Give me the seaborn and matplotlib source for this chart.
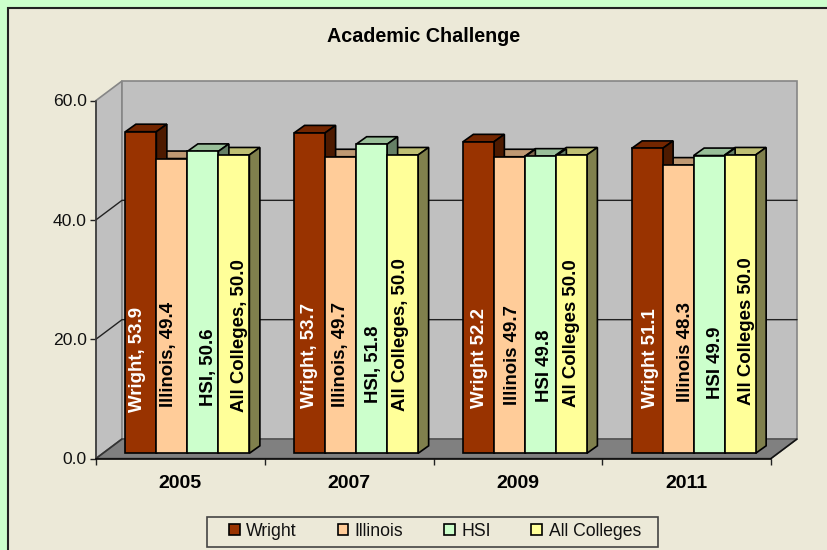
import matplotlib
matplotlib.use('Agg')
import matplotlib.pyplot as plt
from matplotlib.colors import to_rgb
from matplotlib.patches import Polygon, Rectangle
import pandas as pd
import seaborn as sns

years = ['2005', '2007', '2009', '2011']
series_names = ['Wright', 'Illinois', 'HSI', 'All Colleges']
wright = [53.9, 53.7, 52.2, 51.1]
illinois = [49.4, 49.7, 49.7, 48.3]
hsi = [50.6, 51.8, 49.8, 49.9]
all_colleges = [50.0, 50.0, 50.0, 50.0]
y_ticks = [0, 20, 40, 60]
colors = ['#993300', '#FFCC99', '#CCFFCC', '#FFFF99']
# the first two years carry a comma in the data labels
label_seps = [', ', ', ', ' ', ' ']

W, H = 827, 550
left, right, top, bottom = 96, 771, 100.5, 458.5
px_x = 4 / (right - left)
px_y = 60 / (bottom - top)

# depth of the box and of the bars, pixels
WALL_DX, WALL_DY = 26 * px_x, 19.5 * px_y
BAR_DX, BAR_DY = 10.5 * px_x, 7.5 * px_y
SHIFT_X, SHIFT_Y = 7 * px_x, 5.2 * px_y

# data label placement: offset from bar centre and bottom of text, pixels
label_dx = [[-3, -3, 5.5, 6], [0, 0, 2, -2], [1, 3, 4, 0], [3, 7, 6, 6]]
label_bottom = [[411.7, 407, 406, 411.7], [408, 406.7, 403, 411],
                [408, 405, 402, 406.7], [408, 402, 399, 405]]


def shade(color, k):
    return tuple(c * k for c in to_rgb(color))


def poly(ax, pts, face, edge, lw=1.2, z=1):
    ax.add_patch(Polygon(pts, closed=True, facecolor=face, edgecolor=edge,
                         linewidth=lw, zorder=z, clip_on=False))


def draw_box(ax):
    x0, x1 = -0.5, 3.5
    ym = y_ticks[-1]
    poly(ax, [(x0, 0), (x0 + WALL_DX, WALL_DY), (x0 + WALL_DX, ym + WALL_DY), (x0, ym)],
         '#C0C0C0', '#868686')
    poly(ax, [(x0 + WALL_DX, WALL_DY), (x1 + WALL_DX, WALL_DY),
              (x1 + WALL_DX, ym + WALL_DY), (x0 + WALL_DX, ym + WALL_DY)],
         '#C0C0C0', '#868686')
    poly(ax, [(x0, 0), (x1, 0), (x1 + WALL_DX, WALL_DY), (x0 + WALL_DX, WALL_DY)],
         '#808080', '#555555')
    ax.plot([x1, x1 + WALL_DX], [0, WALL_DY], color='#111111', lw=1.1, zorder=2, clip_on=False)
    ax.plot([x0, x0 + WALL_DX], [0, WALL_DY], color='#333333', lw=1.1, zorder=2, clip_on=False)
    for t in y_ticks[1:-1]:
        ax.plot([x0, x0 + WALL_DX, x1 + WALL_DX], [t, t + WALL_DY, t + WALL_DY],
                color='#222222', lw=1.0, zorder=2, clip_on=False)


def draw_bars(ax):
    for hue_i, cont in enumerate(ax.containers):
        color = colors[hue_i]
        for cat_i, p in enumerate(cont.patches):
            p.set_x(p.get_x() + SHIFT_X)
            p.set_y(SHIFT_Y)
            p.set_zorder(6)
            p.set_clip_on(False)
            xa, xb = p.get_x(), p.get_x() + p.get_width()
            yb, yt = SHIFT_Y, SHIFT_Y + p.get_height()
            # tops under sides, sides under the fronts of the next bar
            poly(ax, [(xa, yt), (xb, yt), (xb + BAR_DX, yt + BAR_DY), (xa + BAR_DX, yt + BAR_DY)],
                 shade(color, 0.75), 'black', 1.2, 4)
            poly(ax, [(xb, yb), (xb + BAR_DX, yb + BAR_DY), (xb + BAR_DX, yt + BAR_DY), (xb, yt)],
                 shade(color, 0.5), 'black', 1.2, 5)

            value = p.get_height()
            name = series_names[hue_i]
            txt = name + label_seps[cat_i] + '%.1f' % value
            ax.text((xa + xb) / 2 + label_dx[cat_i][hue_i] * px_x,
                    (bottom - label_bottom[cat_i][hue_i]) * px_y, txt,
                    rotation=90, ha='center', va='bottom', fontsize=13.4, fontweight='bold',
                    color='white' if hue_i == 0 else 'black', zorder=7)


def main():
    sns.set_theme(style='white')
    plt.rcParams['font.family'] = ['Liberation Sans', 'DejaVu Sans']

    d = pd.DataFrame({'year': years * 4,
                      'series': [s for s in series_names for _ in years],
                      'value': wright + illinois + hsi + all_colleges})

    fig = plt.figure(figsize=(W / 100, H / 100), dpi=100, facecolor='#CCFFCC')
    fig.add_artist(Rectangle((8 / W, -0.1), 1.1, 1.1 - 8 / H, transform=fig.transFigure,
                             facecolor='#ECE9D8', edgecolor='#222222', linewidth=1.5, zorder=-1))

    ax = fig.add_axes([left / W, 1 - bottom / H, (right - left) / W, (bottom - top) / H])
    ax.patch.set_alpha(0)
    sns.barplot(x='year', y='value', hue='series', data=d, ax=ax, order=years,
                hue_order=series_names, palette=colors, width=0.735, gap=0, saturation=1,
                edgecolor='black', linewidth=1.2, errorbar=None)
    handles, labels = ax.get_legend_handles_labels()

    ax.set_xlim(-0.5, 3.5)
    ax.set_ylim(0, 60)
    ax.set_xlabel(None)
    ax.set_ylabel(None)
    draw_box(ax)
    draw_bars(ax)

    ax.set_yticks(y_ticks, ['%.1f' % t for t in y_ticks])
    ax.tick_params(axis='y', which='major', left=True, length=4.5, width=1, pad=2,
                   labelsize=12.6, color='#222222', labelcolor='#111111')
    ax.set_xticks([i + 0.5 for i in range(-1, 4)], minor=True)
    ax.set_xticks(range(4), years)
    ax.tick_params(axis='x', which='major', bottom=False, pad=5.6, labelsize=14, labelcolor='black')
    ax.tick_params(axis='x', which='minor', bottom=True, length=4.5, width=1, color='#222222')
    for t in ax.get_xticklabels():
        t.set_fontweight('bold')
    for s in ['top', 'right']:
        ax.spines[s].set_visible(False)
    ax.spines['bottom'].set_color('black')
    ax.spines['left'].set_color('#333333')
    for s in ['bottom', 'left']:
        ax.spines[s].set_linewidth(1.1)

    fig.text(423.5 / W, 1 - 37 / H, 'Academic Challenge', ha='center', va='center',
             fontsize=14.2, fontweight='bold', color='black')

    # legend frame is wider than its content, so it is drawn on its own
    fig.add_artist(Rectangle((207 / W, 1 - 547 / H), 451 / W, 30 / H, transform=fig.transFigure,
                             facecolor='none', edgecolor='#444444', linewidth=1.2))
    ax.legend(handles, labels, loc='center', bbox_to_anchor=(435 / W, 1 - 531.5 / H),
              bbox_transform=fig.transFigure, ncol=4, frameon=False, fontsize=12.7,
              handlelength=0.6, handleheight=0.6, handletextpad=0.38, columnspacing=2.3,
              borderpad=0, labelcolor='#111111')

    plt.savefig('out.png', dpi=100, facecolor=fig.get_facecolor())


if __name__ == '__main__':
    main()
